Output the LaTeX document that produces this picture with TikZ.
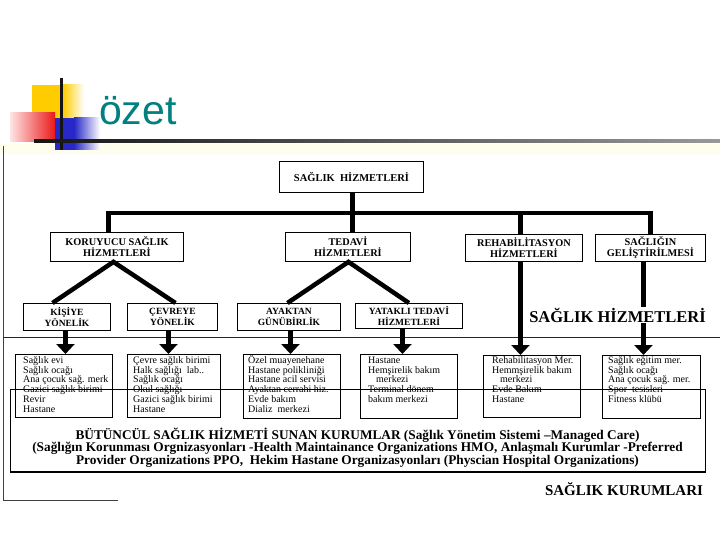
\documentclass[tikz,border=0pt]{standalone}
\usepackage{fontspec}
\setmainfont{Liberation Serif}
\newfontfamily\titlefont{Liberation Sans}
\usetikzlibrary{arrows.meta}
\definecolor{teal1}{RGB}{0,128,128}
\definecolor{ylw}{RGB}{255,204,0}
\definecolor{redd}{RGB}{235,25,25}
\definecolor{pinkl}{RGB}{255,228,228}
\definecolor{blu}{RGB}{40,40,200}
\definecolor{cream}{RGB}{255,254,236}
\definecolor{ink}{RGB}{20,20,20}
\newcommand\myboxfont{\fontsize{10}{9.8}\selectfont\lineskiplimit-20pt\relax}
\newcommand\mybigfont{\bfseries\fontsize{13.3}{12.5}\selectfont\lineskiplimit-20pt\relax}
\tikzset{
  box/.style={draw, line width=0.9pt, inner sep=0pt, anchor=north west, align=center},
  labtop/.style={font=\bfseries\fontsize{10.5}{11}\selectfont},
  labtwo/.style={font=\bfseries\fontsize{10.3}{11}\selectfont},
  labthree/.style={font=\bfseries\fontsize{9.5}{10.5}\selectfont},
  btext/.style={anchor=north west, inner sep=0pt, align=left, font=\myboxfont},
  thk/.style={line width=4.5pt},
  arr/.style={line width=4.5pt, -{Triangle[width=18pt,length=10pt]}},
}
\begin{document}
\begin{tikzpicture}[x=1pt,y=-1pt]
\useasboundingbox (0,0) rectangle (720,540);
\fill[white] (0,0) rectangle (720,540);
% title band decoration
\fill[cream] (0,144) rectangle (720,154);
\fill[ylw] (32,85) rectangle (63,118);
\shade[left color=ylw,right color=white] (63,85) rectangle (84,118);
\shade[left color=pinkl,right color=redd] (10,113) rectangle (55,142);
\fill[blu] (55,118) rectangle (74,150);
\shade[left color=blu,right color=white] (74,118) rectangle (100,150);
\draw[line width=3pt, ink] (61,78) -- (61,150);
\shade[left color=ink, right color=black!40] (34,139.5) rectangle (720,142.5);
\node[font=\titlefont\fontsize{41}{41}\selectfont, text=teal1, anchor=base west, inner sep=0pt] (title) at (99,125) {özet};

% scan frame lines
\draw[line width=0.8pt, black!75] (3,146) -- (3,500) -- (118,500);
\draw[line width=0.8pt, black!85] (3,337) -- (720,337);

% top
\node[box, labtop, minimum width=144pt, minimum height=31pt] (top) at (279,161) {SAĞLIK\ \ HİZMETLERİ};
% row 2
\node[box, labtwo, minimum width=133pt, minimum height=29pt] (kor) at (50,232) {KORUYUCU SAĞLIK\\HİZMETLERİ};
\node[box, labtwo, minimum width=125pt, minimum height=29pt] (ted) at (285,232) {TEDAVİ\\HİZMETLERİ};
\node[box, labtwo, minimum width=117pt, minimum height=27pt] (reh) at (465,234) {REHABİLİTASYON\\HİZMETLERİ};
\node[box, labtwo, minimum width=110pt, minimum height=27pt] (sgl) at (595,234) {SAĞLIĞIN\\GELİŞTİRİLMESİ};
% row 3
\node[box, labthree, minimum width=87pt, minimum height=27pt] (kis) at (23,303) {KİŞİYE\\YÖNELİK};
\node[box, labthree, minimum width=90pt, minimum height=27pt] (cev) at (127,303) {ÇEVREYE\\YÖNELİK};
\node[box, labthree, minimum width=103pt, minimum height=27pt] (aya) at (237,303) {AYAKTAN\\GÜNÜBİRLİK};
\node[box, labthree, minimum width=107pt, minimum height=25pt] (yat) at (355,303) {YATAKLI TEDAVİ\\HİZMETLERİ};
% bottom boxes
\node[box, minimum width=97pt, minimum height=63pt] (b1) at (15,354) {};
\node[box, minimum width=93pt, minimum height=63pt] (b2) at (127,354) {};
\node[box, minimum width=97pt, minimum height=64pt] (b3) at (243,354) {};
\node[box, minimum width=97pt, minimum height=64pt] (b4) at (360,354) {};
\node[box, minimum width=97pt, minimum height=62pt] (b5) at (483,355) {};
\node[box, minimum width=98pt, minimum height=63pt] (b6) at (602,355) {};
\node[btext] (t1) at (23,353.5) {\rule{0pt}{9.5pt}Sağlık evi\\Sağlık ocağı\\Ana çocuk sağ. merk\\Gazici sağlık birimi\\Revir\\Hastane};
\node[btext] (t2) at (133,353.5) {\rule{0pt}{9.5pt}Çevre sağlık birimi\\Halk sağlığı\ \ lab..\\Sağlık ocağı\\Okul sağlığı\\Gazici sağlık birimi\\Hastane};
\node[btext] (t3) at (248,353.5) {\rule{0pt}{9.5pt}Özel muayenehane\\Hastane polikliniği\\Hastane acil servisi\\Ayaktan cerrahi hiz.\\Evde bakım\\Dializ\ \ merkezi};
\node[btext] (t4) at (368,353.5) {\rule{0pt}{9.5pt}Hastane\\Hemşirelik bakım\\\hspace*{8pt}merkezi\\Terminal dönem\\bakım merkezi};
\node[btext] (t5) at (492,353.5) {\rule{0pt}{9.5pt}Rehabilitasyon Mer.\\Hemmşirelik bakım\\\hspace*{8pt}merkezi\\Evde Bakım\\Hastane};
\node[btext] (t6) at (608,353.5) {\rule{0pt}{9.5pt}Sağlık eğitim mer.\\Sağlık ocağı\\Ana çocuk sağ. mer.\\Spor\ \ tesisleri\\Fitness klübü};

% big box
\node[box, minimum width=695pt, minimum height=82pt] (big) at (10,389) {};
\draw[line width=1.6pt] (big.south west) -- (big.south east);
\node[anchor=north, inner sep=0pt, align=center, font=\mybigfont] (bigtxt) at (357.5,427.5)
 {\rule{0pt}{10pt}BÜTÜNCÜL SAĞLIK HİZMETİ SUNAN KURUMLAR (Sağlık Yönetim Sistemi –Managed Care)\\
 (Sağlığın Korunması Orgnizasyonları -Health Maintainance Organizations HMO, Anlaşmalı Kurumlar -Preferred\\
 Provider Organizations PPO,\ \ Hekim Hastane Organizasyonları (Physcian Hospital Organizations)};

% connectors
\coordinate (busy) at (0,213);
\draw[thk] ([xshift=1pt]top.south) -- ([xshift=1pt]top.south |- ted.north);
\draw[thk, line join=miter] ([xshift=-8.5pt]kor.north) -- ([xshift=-8.5pt]kor.north |- busy) -- (sgl.north |- busy) -- (sgl.north);
\draw[thk] ([xshift=-3.5pt]reh.north |- busy) -- ([xshift=-3.5pt]reh.north);
\draw[thk, line join=miter] ([xshift=-14.5pt]kis.north) -- ([xshift=-3.5pt]kor.south) -- ([xshift=3pt]cev.north);
\draw[thk, line join=miter] ([xshift=-1.5pt]aya.north) -- ([xshift=0.5pt]ted.south) -- (yat.north);
\draw[arr] ([xshift=-1.5pt]kis.south) -- ([xshift=-1.5pt]kis.south |- b1.north);
\draw[arr] ([xshift=-4pt]cev.south) -- ([xshift=-4pt]cev.south |- b2.north);
\draw[arr] ([xshift=1.5pt]aya.south) -- ([xshift=1.5pt]aya.south |- b3.north);
\draw[arr] ([xshift=-6.5pt]yat.south) -- ([xshift=-6.5pt]yat.south |- b4.north);
\draw[arr] ([xshift=-3.5pt]reh.south) -- ([xshift=-3.5pt]reh.south |- b5.north);
\draw[arr] ([xshift=-7pt]sgl.south) -- ([xshift=-7pt]sgl.south |- b6.north);

% side labels
\node[anchor=base, fill=white, inner sep=1pt, font=\bfseries\fontsize{16.5}{16.5}\selectfont] (lblh) at (617.5,322) {SAĞLIK HİZMETLERİ};
\node[anchor=base, inner sep=0pt, font=\bfseries\fontsize{15}{15}\selectfont] (lblk) at (624,495) {SAĞLIK KURUMLARI};
\end{tikzpicture}
\end{document}
